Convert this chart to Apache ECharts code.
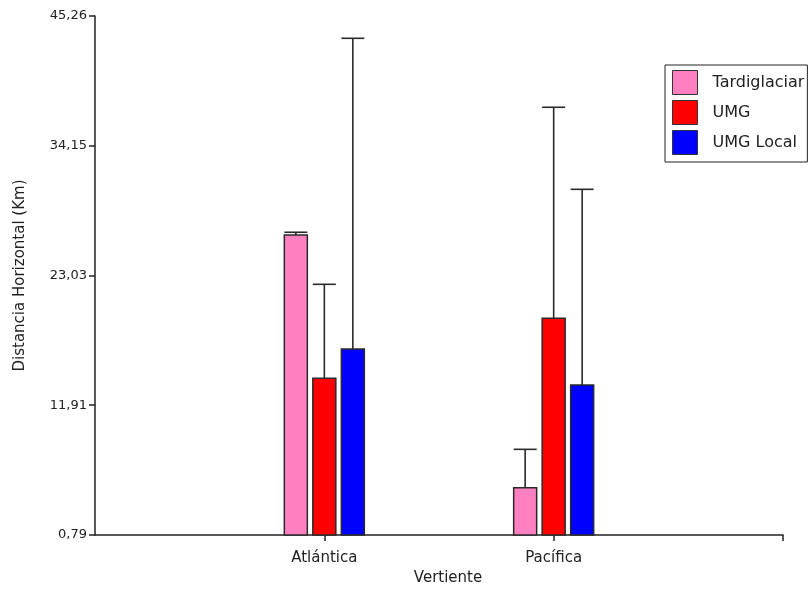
<!DOCTYPE html>
<html><head><meta charset="utf-8">
<script src="https://cdn.jsdelivr.net/npm/echarts@6/dist/echarts.min.js"></script>
<style>html,body{margin:0;padding:0;background:#fff}#c{width:810px;height:592px}</style>
</head><body><div id="c"></div>
<script>
const categories = ['Atlántica', 'Pacífica'];
const seriesNames = ['Tardiglaciar', 'UMG', 'UMG Local'];
const tardiglaciar = [26.49, 4.84];
const tardiglaciarErr = [0.24, 3.29];
const umg = [14.22, 19.36];
const umgErr = [8.05, 18.08];
const umgLocal = [16.73, 13.64];
const umgLocalErr = [26.62, 16.77];
const yTicks = [0.79, 11.91, 23.03, 34.15, 45.26];
const yMin = 0.79, yMax = 45.26;

const colors = ['#FF80C0', '#FF0000', '#0000FF'];
const offsets = [-28.5, 0, 28.5];
const barW = 23;
const values = [tardiglaciar, umg, umgLocal];
const errs = [tardiglaciarErr, umgErr, umgLocalErr];
const xCats = [''].concat(categories, ['']);
const FONT = 'DejaVu Sans, Liberation Sans, Arial, sans-serif';

function makeSeries(k) {
  return {
    name: seriesNames[k],
    type: 'custom',
    itemStyle: { color: colors[k], borderColor: '#333', borderWidth: 1 },
    data: categories.map((c, i) => [i + 1, values[k][i], errs[k][i]]),
    renderItem: function (params, api) {
      const x = api.value(0), v = api.value(1), e = api.value(2);
      const top = api.coord([x, v]);
      const base = api.coord([x, yMin]);
      const ep = api.coord([x, v + e]);
      const cx = top[0] + offsets[k];
      const ls = { stroke: '#2a2a2a', lineWidth: 1.6 };
      return {
        type: 'group',
        children: [
          { type: 'line', shape: { x1: cx, y1: top[1], x2: cx, y2: ep[1] }, style: ls },
          { type: 'line', shape: { x1: cx - barW / 2, y1: ep[1], x2: cx + barW / 2, y2: ep[1] }, style: ls },
          { type: 'rect', shape: { x: cx - barW / 2, y: top[1], width: barW, height: base[1] - top[1] },
            style: { fill: colors[k], stroke: '#2a2a2a', lineWidth: 1.5 } }
        ]
      };
    }
  };
}

const chart = echarts.init(document.getElementById('c'), null, { renderer: 'canvas' });
chart.setOption({
  animation: false,
  backgroundColor: '#fff',
  textStyle: { fontFamily: FONT },
  grid: { left: 95, right: 27, top: 16, bottom: 57, containLabel: false },
  legend: {
    orient: 'vertical',
    left: 665, top: 65,
    itemWidth: 25, itemHeight: 24, itemGap: 5,
    padding: [5, 3, 7, 7],
    borderColor: '#222', borderWidth: 1,
    backgroundColor: '#fff',
    textStyle: { fontFamily: FONT, fontSize: 16, color: '#222', padding: [0, 0, 0, 10] },
    data: seriesNames.map((n, k) => ({ name: n, icon: 'rect', itemStyle: { color: colors[k], borderColor: '#333', borderWidth: 1 } }))
  },
  xAxis: {
    type: 'category',
    data: xCats,
    boundaryGap: false,
    name: 'Vertiente',
    nameLocation: 'middle',
    nameGap: 35,
    nameTextStyle: { fontFamily: FONT, fontSize: 15, color: '#222', padding: [0, 0, 0, 18] },
    axisLine: { lineStyle: { color: '#222', width: 1.5 } },
    axisTick: { show: true, length: 6, interval: (i) => i >= 1, lineStyle: { color: '#222', width: 1.5 } },
    axisLabel: { fontFamily: FONT, fontSize: 15, color: '#222', margin: 16, interval: 0 },
    splitLine: { show: false }
  },
  yAxis: {
    type: 'value',
    min: yMin, max: yMax,
    name: 'Distancia Horizontal (Km)',
    nameLocation: 'middle',
    nameGap: 67,
    nameTextStyle: { fontFamily: FONT, fontSize: 15, color: '#222' },
    axisLine: { show: true, lineStyle: { color: '#222', width: 1.5 } },
    axisTick: { show: true, length: 6, customValues: yTicks, lineStyle: { color: '#222', width: 1.5 } },
    axisLabel: { fontFamily: FONT, fontSize: 13, color: '#222', margin: 8, customValues: yTicks,
      formatter: (v) => v.toFixed(2).replace('.', ',') },
    splitLine: { show: false }
  },
  series: [0, 1, 2].map(makeSeries)
});
</script></body></html>
